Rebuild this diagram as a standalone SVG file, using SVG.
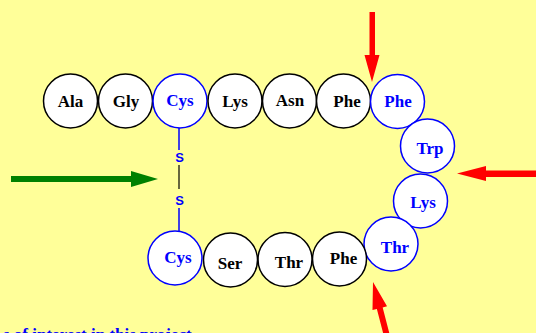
<svg xmlns="http://www.w3.org/2000/svg" width="536" height="333" viewBox="0 0 536 333">
<style>
.aa circle{fill:#fff;stroke:#000;stroke-width:1.5}
.aa text{font-family:"Liberation Serif","Times New Roman",serif;font-weight:bold;font-size:17px;fill:#000;text-anchor:middle}
.hl circle{stroke:#0000ff}
.hl text{fill:#0000ff}
.s{font-family:"Liberation Sans",Arial,sans-serif;font-weight:bold;font-size:13px;fill:#0000ff;text-anchor:middle}
.red{fill:#ff0000}
</style>
<rect width="536" height="333" fill="#ffff99"/>
<g id="connectors">
<line x1="179" y1="128" x2="179" y2="150" stroke="#0000ff" stroke-width="1.5"/>
<line x1="179" y1="165" x2="179" y2="189" stroke="#000" stroke-width="1.2"/>
<line x1="179" y1="208" x2="179" y2="231" stroke="#0000ff" stroke-width="1.5"/>
<text class="s" x="179.5" y="162">S</text>
<text class="s" x="179.5" y="205">S</text>
</g>
<g id="arrows">
<polygon fill="#008000" points="11,176 131,176 131,171 158,179 131,187 131,182 11,182"/>
<polygon class="red" points="369.5,12 375,12 375,55 379.5,55 372,82 364.5,55 369.5,55"/>
<polygon class="red" points="536,170.5 486,170.5 486,166 457,173.5 486,181 486,177 536,177"/>
<polygon class="red" transform="translate(373,282) rotate(-14.5)" points="0,0 7.5,27 3,27 3,70 -3,70 -3,27 -7.5,27"/>
</g>
<g id="n1" class="aa"><circle cx="70.5" cy="101" r="27"/><text x="70.5" y="107">Ala</text></g>
<g id="n2" class="aa"><circle cx="125.5" cy="101" r="27"/><text x="126" y="107">Gly</text></g>
<g id="n3" class="aa hl"><circle cx="180" cy="101" r="27"/><text x="180" y="106">Cys</text></g>
<g id="n4" class="aa"><circle cx="235" cy="101" r="27"/><text x="235" y="107">Lys</text></g>
<g id="n5" class="aa"><circle cx="289.5" cy="101" r="27"/><text x="290" y="106">Asn</text></g>
<g id="n6" class="aa"><circle cx="343.5" cy="101" r="27"/><text x="347" y="107">Phe</text></g>
<g id="n7" class="aa hl"><circle cx="397.5" cy="101.5" r="27"/><text x="398" y="107">Phe</text></g>
<g id="n8" class="aa hl"><circle cx="427.5" cy="146" r="27"/><text x="430" y="154">Trp</text></g>
<g id="n9" class="aa hl"><circle cx="420.5" cy="201" r="27"/><text x="423" y="208">Lys</text></g>
<g id="n10" class="aa hl"><circle cx="391" cy="244" r="27"/><text x="395" y="253">Thr</text></g>
<g id="n11" class="aa"><circle cx="339.5" cy="259" r="27"/><text x="343.5" y="264">Phe</text></g>
<g id="n12" class="aa"><circle cx="285" cy="259.5" r="27"/><text x="289" y="268">Thr</text></g>
<g id="n13" class="aa"><circle cx="230.5" cy="260" r="27"/><text x="230" y="269">Ser</text></g>
<g id="n14" class="aa hl"><circle cx="175" cy="258" r="27"/><text x="178" y="263">Cys</text></g>
<text x="3" y="340" font-family="'Liberation Serif','Times New Roman',serif" font-weight="bold" font-size="17" fill="#0000ff">s of interest in this project</text>
</svg>
